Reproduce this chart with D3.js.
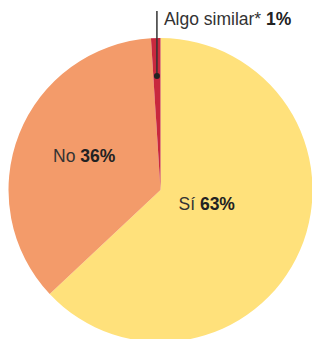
<!DOCTYPE html>
<html>
<head>
<meta charset="utf-8">
<script src="https://cdn.jsdelivr.net/npm/d3@7"></script>
<style>
  body { margin: 0; background: #fff; }
  text { font-family: "Liberation Sans", Arial, sans-serif; fill: #333; }
  .lbl { font-size: 17.5px; }
  .lbl tspan.v { font-weight: bold; fill: #222; }
</style>
</head>
<body>
<svg id="chart" width="312" height="339"></svg>
<script>
// Data
const categories = ["Sí", "No", "Algo similar*"];
const values = [63, 36, 1];
const valueLabels = ["63%", "36%", "1%"];
const colors = ["#FFE17B", "#F39B6A", "#C8283E"];

const width = 312, height = 339;
const cx = 160.5, cy = 190, radius = 152;

const svg = d3.select("#chart");
const g = svg.append("g").attr("transform", `translate(${cx},${cy})`);

const pie = d3.pie().sort(null).value(d => d.value);
const arc = d3.arc().innerRadius(0).outerRadius(radius);

const data = categories.map((c, i) => ({ cat: c, value: values[i], label: valueLabels[i], color: colors[i] }));
const arcs = pie(data);

g.selectAll("path")
  .data(arcs)
  .enter()
  .append("path")
  .attr("d", arc)
  .attr("fill", d => d.data.color);

// inner labels (placed by hand, like the original)
const labelPos = [[18, 20], [-107.5, -28]];
arcs.slice(0, 2).forEach((d, i) => {
  const t = g.append("text")
    .attr("class", "lbl")
    .attr("x", labelPos[i][0])
    .attr("y", labelPos[i][1]);
  t.append("tspan").text(d.data.cat + " ");
  t.append("tspan").attr("class", "v").text(d.data.label);
});

// leader for the small slice
const small = arcs[2];
const mid = (small.startAngle + small.endAngle) / 2;
const dotR = 114;
const dx = Math.sin(mid) * dotR;
const dy = -Math.cos(mid) * dotR;
g.append("line")
  .attr("x1", dx).attr("y1", dy)
  .attr("x2", dx).attr("y2", -cy + 11)
  .attr("stroke", "#333")
  .attr("stroke-width", 1.5);
g.append("circle")
  .attr("cx", dx).attr("cy", dy)
  .attr("r", 3)
  .attr("fill", "#222");

const t3 = svg.append("text")
  .attr("class", "lbl")
  .attr("x", cx + dx + 7)
  .attr("y", 25);
t3.append("tspan").text(small.data.cat + " ");
t3.append("tspan").attr("class", "v").text(small.data.label);
</script>
</body>
</html>
